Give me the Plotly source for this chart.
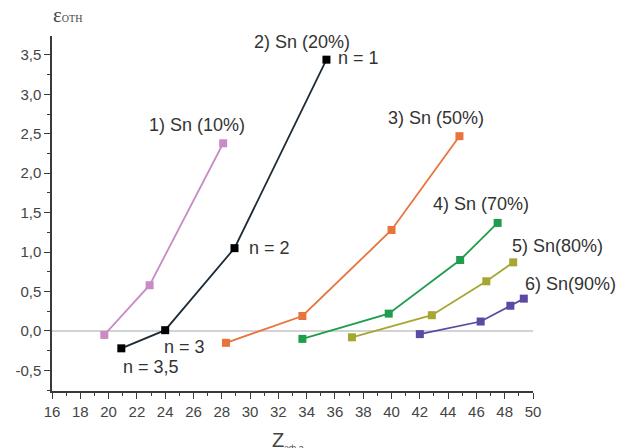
import plotly.graph_objects as go

# Z values and relative epsilon for each Sn concentration series
z_sn10 = [19.7, 22.9, 28.1]
e_sn10 = [-0.05, 0.58, 2.38]

z_sn20 = [20.9, 24.0, 28.9, 35.4]
e_sn20 = [-0.22, 0.01, 1.05, 3.44]

z_sn50 = [28.3, 33.7, 40.0, 44.8]
e_sn50 = [-0.15, 0.19, 1.28, 2.47]

z_sn70 = [33.7, 39.8, 44.85, 47.5]
e_sn70 = [-0.10, 0.22, 0.90, 1.37]

z_sn80 = [37.2, 42.85, 46.7, 48.6]
e_sn80 = [-0.08, 0.20, 0.63, 0.87]

z_sn90 = [42.0, 46.3, 48.4, 49.35]
e_sn90 = [-0.04, 0.12, 0.32, 0.41]

x_ticks = list(range(16, 51, 2))
y_ticks = [-0.5, 0.0, 0.5, 1.0, 1.5, 2.0, 2.5, 3.0, 3.5]
y_tick_text = ["-0,5", "0,0", "0,5", "1,0", "1,5", "2,0", "2,5", "3,0", "3,5"]

X_MIN, X_MAX = 16, 50
Y_MIN, Y_MAX = -0.761, 3.74

series = [
    (z_sn10, e_sn10, "#c98bc3", "#c98bc3"),
    (z_sn20, e_sn20, "#1c2b38", "#000000"),
    (z_sn50, e_sn50, "#e8733c", "#e8733c"),
    (z_sn70, e_sn70, "#1f9d4c", "#1f9d4c"),
    (z_sn80, e_sn80, "#a6a632", "#a6a632"),
    (z_sn90, e_sn90, "#5b49a3", "#5b49a3"),
]

fig = go.Figure()

for xs, ys, line_c, mark_c in series:
    fig.add_trace(go.Scatter(
        x=xs, y=ys, mode="lines+markers",
        line=dict(color=line_c, width=1.8),
        marker=dict(symbol="square", size=8, color=mark_c,
                    line=dict(width=0)),
        showlegend=False, cliponaxis=False,
    ))

# zero reference line
fig.add_shape(type="line", xref="x", yref="y", x0=X_MIN, x1=X_MAX, y0=0, y1=0,
              line=dict(color="#c4c4c4", width=1.6), layer="below")

label_font = dict(family="Liberation Sans, Arial", size=18, color="#333333")
labels = [
    (26.25, 2.61, "1) Sn (10%)"),
    (33.7, 3.67, "2) Sn (20%)"),
    (37.7, 3.46, "n = 1"),
    (31.35, 1.05, "n = 2"),
    (43.15, 2.70, "3) Sn (50%)"),
    (25.4, -0.20, "n = 3"),
    (23.0, -0.46, "n = 3,5"),
    (46.3, 1.61, "4) Sn (70%)"),
    (51.75, 1.08, "5) Sn(80%)"),
    (52.65, 0.60, "6) Sn(90%)"),
]


def to_paper(x, y):
    return ((x - X_MIN) / (X_MAX - X_MIN), (y - Y_MIN) / (Y_MAX - Y_MIN))


# labels are placed in paper space so those right of the axis stay visible
for x, y, t in labels:
    px, py = to_paper(x, y)
    fig.add_annotation(x=px, y=py, xref="paper", yref="paper", text=t,
                       showarrow=False, font=label_font,
                       xanchor="center", yanchor="middle")

# axis titles
fig.add_annotation(
    xref="paper", yref="paper", x=-0.002, y=(391 - 15) / 355,
    text="<span style='font-size:21px'>ε</span><span style='font-size:10px'>ОТН</span>",
    showarrow=False, xanchor="left", yanchor="middle",
    font=dict(family="Liberation Serif, Times New Roman", size=21, color="#444444"),
)
fig.add_annotation(
    xref="paper", yref="paper", x=(270 - 52) / 481, y=-(441 - 391) / 355,
    text="Z<sub><span style='font-size:9px'>эф.а</span></sub>",
    showarrow=False, xanchor="left", yanchor="middle",
    font=dict(family="Liberation Sans, Arial", size=20, color="#444444"),
)

axis_common = dict(
    showgrid=False, zeroline=False, showline=True, linecolor="#3a3a3a",
    linewidth=1.5, ticks="outside", ticklen=6, tickwidth=1.3,
    tickcolor="#3a3a3a",
    tickfont=dict(family="Liberation Sans, Arial", size=15, color="#444444"),
)

fig.update_xaxes(range=[X_MIN, X_MAX], tickvals=x_ticks,
                 minor=dict(ticks="outside", ticklen=3, tickwidth=1.3,
                            tickcolor="#3a3a3a", dtick=1, tick0=16),
                 **axis_common)
fig.update_yaxes(range=[Y_MIN, Y_MAX], tickvals=y_ticks, ticktext=y_tick_text,
                 minor=dict(ticks="outside", ticklen=3, tickwidth=1.3,
                            tickcolor="#3a3a3a", dtick=0.25, tick0=0),
                 **axis_common)

fig.update_layout(
    width=627, height=448,
    margin=dict(l=52, r=94, t=36, b=57),
    plot_bgcolor="white", paper_bgcolor="white",
)

fig.write_html("out.html")
